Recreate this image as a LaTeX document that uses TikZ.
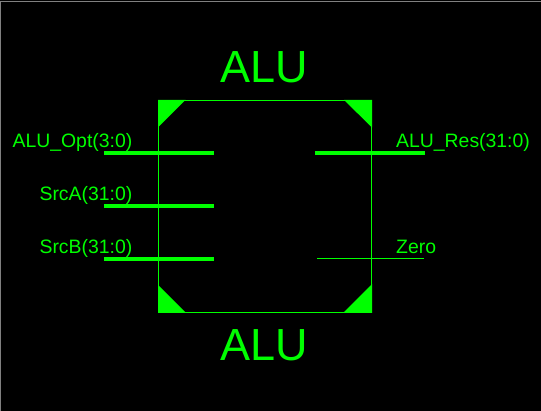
\documentclass[tikz,border=0pt]{standalone}
\usepackage{fontspec}
\setmainfont{Liberation Sans}
\definecolor{wire}{RGB}{0,255,0}
\definecolor{frameline}{RGB}{128,128,128}
\tikzset{
  x=1pt,y=-1pt,
  bus/.style={draw=wire,line width=4pt},
  thinwire/.style={draw=wire,line width=1pt},
  corner/.style={fill=wire,draw=none},
  pinlabel/.style={text=wire,inner sep=0pt,font=\fontsize{19.4pt}{20pt}\selectfont,anchor=base east},
  pinlabelr/.style={text=wire,inner sep=0pt,font=\fontsize{19.4pt}{20pt}\selectfont,anchor=base west},
  titlelabel/.style={text=wire,inner sep=0pt,font=\fontsize{45pt}{48pt}\selectfont,anchor=base},
}
\begin{document}
\begin{tikzpicture}
\useasboundingbox (0,0) rectangle (541,411);
\fill[black] (0,0) rectangle (541,411);
\draw[frameline,line width=1pt] (0.5,411) -- (0.5,1.5) -- (541,1.5);
% block
\draw[thinwire] (158.5,100.5) rectangle (371.5,312.5);
\fill[corner] (158,100) -- (185.5,100) -- (158,127.5) -- cycle;
\fill[corner] (372,100) -- (344,100) -- (372,127.5) -- cycle;
\fill[corner] (158,313) -- (186,313) -- (158,285) -- cycle;
\fill[corner] (372,313) -- (343,313) -- (372,284) -- cycle;
% pins
\coordinate (o1) at (104,153); \coordinate (o2) at (214,153);
\coordinate (a1) at (104,206); \coordinate (a2) at (214,206);
\coordinate (b1) at (104,259); \coordinate (b2) at (214,259);
\coordinate (r1) at (315,153); \coordinate (r2) at (425,153);
\coordinate (z1) at (317,258.5); \coordinate (z2) at (424,258.5);
\draw[bus] (o1) -- (o2);
\draw[bus] (a1) -- (a2);
\draw[bus] (b1) -- (b2);
\draw[bus] (r1) -- (r2);
\draw[thinwire] (z1) -- (z2);
% labels
\node[titlelabel] (t1) at (264,82.5) {ALU};
\node[titlelabel] (t2) at (264,360.5) {ALU};
\node[pinlabel] (lo) at (132.5,148) {ALU\_Opt(3:0)};
\node[pinlabel] (la) at (132.5,201) {SrcA(31:0)};
\node[pinlabel] (lb) at (132.5,254) {SrcB(31:0)};
\node[pinlabelr] (lr) at (396,148) {ALU\_Res(31:0)};
\node[pinlabelr] (lz) at (396,254) {Zero};
\end{tikzpicture}
\end{document}
